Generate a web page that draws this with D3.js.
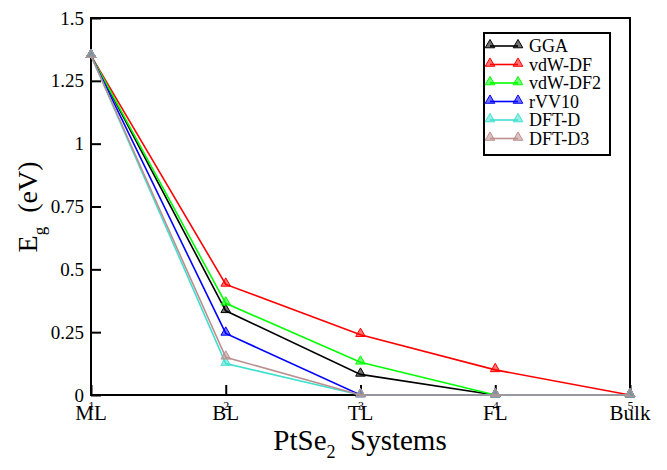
<!DOCTYPE html>
<html>
<head>
<meta charset="utf-8">
<script src="https://cdn.jsdelivr.net/npm/d3@7"></script>
<style>
  body { margin: 0; background: #fff; }
  text { font-family: "Liberation Serif", "Times New Roman", serif; }
</style>
</head>
<body>
<div id="chart"></div>
<script>
// Data
const systems = ["ML", "BL", "TL", "FL", "Bulk"];
const positions = [1, 2, 3, 4, 5];
const yTicks = [0, 0.25, 0.5, 0.75, 1, 1.25, 1.5];
const yTickLabels = ["0", "0.25", "0.5", "0.75", "1", "1.25", "1.5"];

const seriesNames = ["GGA", "vdW-DF", "vdW-DF2", "rVV10", "DFT-D", "DFT-D3"];
const seriesColors = ["#000000", "#ff0000", "#00ff00", "#0000ff", "#40e0d0", "#bc8f8f"];
const gga    = [1.35, 0.335, 0.082, 0, 0];
const vdwdf  = [1.35, 0.44, 0.24, 0.10, 0];
const vdwdf2 = [1.35, 0.365, 0.13, 0, 0];
const rvv10  = [1.35, 0.245, 0, 0, 0];
const dftd   = [1.35, 0.125, 0, 0, 0];
const dftd3  = [1.35, 0.15, 0, 0, 0];
const seriesValues = [gga, vdwdf, vdwdf2, rvv10, dftd, dftd3];

const W = 667, H = 470;
const margin = {top: 18, right: 37, bottom: 75, left: 91};
const width = W - margin.left - margin.right;
const height = H - margin.top - margin.bottom;

const svg = d3.select("#chart").append("svg")
    .attr("width", W)
    .attr("height", H);

const g = svg.append("g")
    .attr("transform", `translate(${margin.left}, ${margin.top})`);

const x = d3.scaleLinear().domain([1, 5]).range([0, width]);
const y = d3.scaleLinear().domain([0, 1.5]).range([height, 0]);

// Frame
g.append("rect")
    .attr("x", 0).attr("y", 0)
    .attr("width", width).attr("height", height)
    .attr("fill", "none")
    .attr("stroke", "#000")
    .attr("stroke-width", 2);

// Y axis: inward ticks
g.append("g")
    .call(d3.axisLeft(y).tickValues(yTicks).tickSize(-10)
        .tickFormat((d, i) => yTickLabels[i]).tickPadding(7))
    .call(a => a.select(".domain").remove())
    .call(a => a.selectAll(".tick line").attr("stroke-width", 2))
    .call(a => a.selectAll(".tick text")
        .style("font-family", "'Liberation Serif', serif")
        .style("font-size", "19px")
        .attr("fill", "#000"));

// X axis: inward ticks with small numbers
g.append("g")
    .attr("transform", `translate(0, ${height})`)
    .call(d3.axisBottom(x).tickValues(positions).tickSize(-10)
        .tickFormat(d3.format("d")).tickPadding(6))
    .call(a => a.select(".domain").remove())
    .call(a => a.selectAll(".tick line").attr("stroke-width", 2))
    .call(a => a.selectAll(".tick text")
        .style("font-family", "'Liberation Serif', serif")
        .style("font-size", "12px")
        .attr("fill", "#000"));

// System names over the numbers
g.selectAll(".sys-label")
    .data(systems)
    .enter()
    .append("text")
    .attr("class", "sys-label")
    .attr("x", (d, i) => x(positions[i]))
    .attr("y", height + 25)
    .attr("text-anchor", "middle")
    .style("font-size", "21px")
    .text(d => d);

// Lines and markers
const line = d3.line()
    .x((d, i) => x(positions[i]))
    .y(d => y(d));

const tri = d3.symbol().type(d3.symbolTriangle).size(40);

seriesValues.forEach((vals, s) => {
    const sg = g.append("g");
    sg.append("path")
        .datum(vals)
        .attr("d", line)
        .attr("fill", "none")
        .attr("stroke", seriesColors[s])
        .attr("stroke-width", 1.6);
    sg.selectAll("path.mark")
        .data(vals)
        .enter()
        .append("path")
        .attr("class", "mark")
        .attr("d", tri)
        .attr("transform", (d, i) => `translate(${x(positions[i])}, ${y(d) - 1})`)
        .attr("fill", seriesColors[s])
        .attr("fill-opacity", 0.55)
        .attr("stroke", seriesColors[s])
        .attr("stroke-width", 1);
});

// Legend
const legend = svg.append("g").attr("transform", "translate(484, 33)");
legend.append("rect")
    .attr("width", 126).attr("height", 122)
    .attr("fill", "#fff")
    .attr("stroke", "#000")
    .attr("stroke-width", 2);

seriesNames.forEach((name, s) => {
    const ly = 13 + s * 18.5;
    const item = legend.append("g");
    item.append("line")
        .attr("x1", 6).attr("x2", 34)
        .attr("y1", ly).attr("y2", ly)
        .attr("stroke", seriesColors[s])
        .attr("stroke-width", 1.6);
    [6, 34].forEach(px => {
        item.append("path")
            .attr("d", tri)
            .attr("transform", `translate(${px}, ${ly - 1})`)
            .attr("fill", seriesColors[s])
            .attr("fill-opacity", 0.55)
            .attr("stroke", seriesColors[s])
            .attr("stroke-width", 1);
    });
    item.append("text")
        .attr("x", 45)
        .attr("y", ly + 6)
        .style("font-size", "18px")
        .text(name);
});

// Y axis title
const yTitle = svg.append("text")
    .attr("transform", "translate(37, 207) rotate(-90)")
    .attr("text-anchor", "middle")
    .style("font-size", "28px");
yTitle.append("tspan").text("E");
yTitle.append("tspan").attr("dy", 8).style("font-size", "17px").text("g");
yTitle.append("tspan").attr("dy", -8).text("\u00a0\u00a0(eV)");

// X axis title
const xTitle = svg.append("text")
    .attr("x", 360)
    .attr("y", 450)
    .attr("text-anchor", "middle")
    .style("font-size", "29px");
xTitle.append("tspan").text("PtSe");
xTitle.append("tspan").attr("dy", 8).style("font-size", "18px").text("2");
xTitle.append("tspan").attr("dy", -8).text("\u00a0\u00a0Systems");
</script>
</body>
</html>
